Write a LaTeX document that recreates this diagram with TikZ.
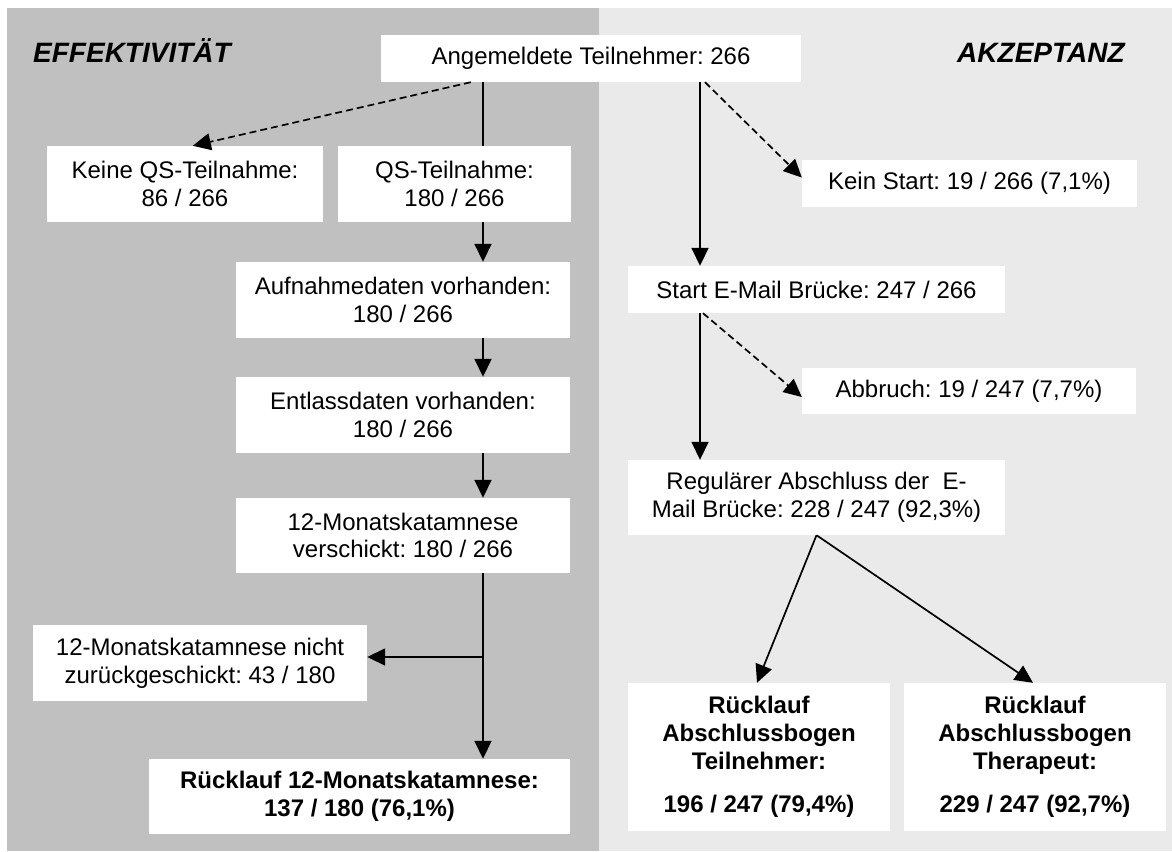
\documentclass[tikz,border=0pt]{standalone}
\usepackage{fontspec}
\setmainfont{Liberation Sans}
\usetikzlibrary{arrows.meta}
\definecolor{panelL}{HTML}{C0C0C0}
\definecolor{panelR}{HTML}{EAEAEA}
\frenchspacing
\begin{document}
\begin{tikzpicture}[x=1pt,y=-1pt,
  box/.style={fill=white, inner sep=0pt, align=center, font=\fontsize{24}{27.6}\selectfont\frenchspacing},
  boldbox/.style={box, font=\fontsize{24}{27.6}\selectfont\bfseries\frenchspacing},
  conn/.style={line width=1.7pt, black},
  arr/.style={conn, -{Triangle[width=17pt,length=18pt]}},
  dasharr/.style={arr, dash pattern=on 7pt off 4pt},
  titletext/.style={font=\fontsize{28}{32}\selectfont\bfseries\itshape, inner sep=0pt}
]
\useasboundingbox (0,0) rectangle (1172,851);
\fill[panelL] (7,8) rectangle (599,851);
\fill[panelR] (599,8) rectangle (1172,851);

\node[titletext, anchor=base west] (t1) at (33,63) {EFFEKTIVITÄT};
\node[titletext, anchor=base west] (t2) at (957,63) {AKZEPTANZ};

% left column
\node[box, minimum width=420pt, minimum height=47pt] (top) at (591,58.5) {Angemeldete Teilnehmer: 266};
\node[box, minimum width=276pt, minimum height=76pt] (keine) at (185,184) {Keine QS-Teilnahme:\\86 / 266};
\node[box, minimum width=233pt, minimum height=76pt] (qs) at (454.5,184) {QS-Teilnahme:\\180 / 266};
\node[box, minimum width=334pt, minimum height=76pt] (aufn) at (403,300) {Aufnahmedaten vorhanden:\\180 / 266};
\node[box, minimum width=334pt, minimum height=76pt] (entl) at (403,415) {Entlassdaten vorhanden:\\180 / 266};
\node[box, minimum width=334pt, minimum height=75pt] (versch) at (403,535.5) {12-Monatskatamnese\\verschickt: 180 / 266};
\node[box, minimum width=334pt, minimum height=76pt] (nicht) at (200,663) {12-Monatskatamnese nicht\\zurückgeschickt: 43 / 180};
\node[boldbox, minimum width=421pt, minimum height=75pt] (rueck) at (359.5,796.5) {Rücklauf 12-Monatskatamnese:\\137 / 180 (76,1\%)};

% right column
\node[box, minimum width=335pt, minimum height=47pt] (kein) at (969.5,183.5) {Kein Start: 19 / 266 (7,1\%)};
\node[box, minimum width=377pt, minimum height=47pt] (start) at (816.5,289.5) {Start E-Mail Brücke: 247 / 266};
\node[box, minimum width=334pt, minimum height=46pt] (abbr) at (969,391) {Abbruch: 19 / 247 (7,7\%)};
\node[box, minimum width=377pt, minimum height=75pt] (regul) at (816.5,497.5) {Regulärer Abschluss der \ E-\\Mail Brücke: 228 / 247 (92,3\%)};
\node[boldbox, minimum width=262pt, minimum height=148pt] (teiln) at (759,757) {Rücklauf\\Abschlussbogen\\Teilnehmer:\\[16pt]196 / 247 (79,4\%)};
\node[boldbox, minimum width=262pt, minimum height=148pt] (ther) at (1035,757) {Rücklauf\\Abschlussbogen\\Therapeut:\\[16pt]229 / 247 (92,7\%)};

\coordinate (lx) at (483,0);
\coordinate (rx) at (700,0);
\coordinate (br) at (483,657);

% left connectors
\draw[dasharr] ([xshift=90pt]top.south west) -- ([xshift=146pt]keine.north west);
\draw[conn] (top.south -| lx) -- (qs.north -| lx);
\draw[arr] (qs.south -| lx) -- (aufn.north -| lx);
\draw[arr] (aufn.south -| lx) -- (entl.north -| lx);
\draw[arr] (entl.south -| lx) -- (versch.north -| lx);
\draw[arr] (versch.south -| lx) -- (rueck.north -| lx);
\draw[arr] (br) -- (br -| nicht.east);

% right connectors
\draw[dasharr] ([xshift=5pt]top.south -| rx) -- ([yshift=6pt]kein.west);
\draw[arr] (top.south -| rx) -- (start.north -| rx);
\draw[dasharr] ([xshift=3pt]start.south -| rx) -- ([yshift=-6pt]abbr.west);
\draw[arr] (start.south -| rx) -- (regul.north -| rx);
\draw[arr] (regul.south) -- ([xshift=-2pt]teiln.north);
\draw[arr] (regul.south) -- ([xshift=-2pt]ther.north);
\end{tikzpicture}
\end{document}
